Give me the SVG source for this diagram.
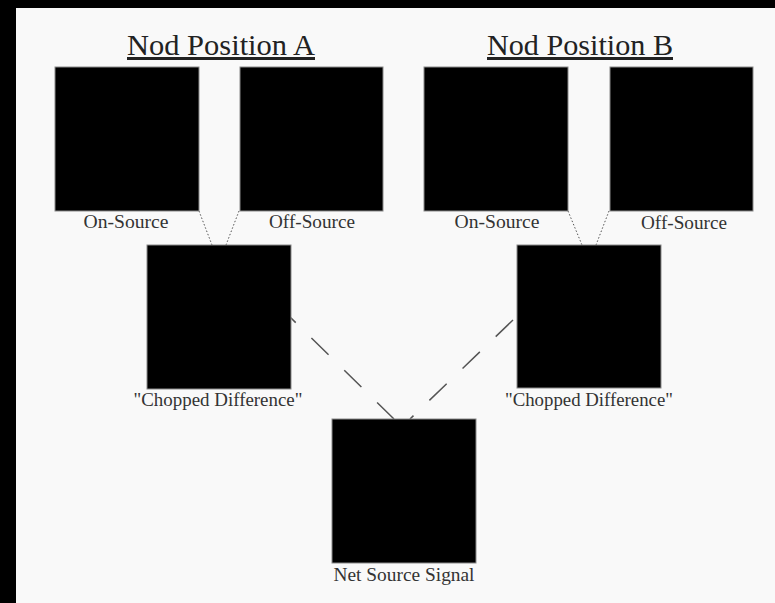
<svg xmlns="http://www.w3.org/2000/svg" width="775" height="603" viewBox="0 0 775 603">
  <style>
    .box { fill: #000; stroke: #8a8a8a; stroke-width: 1; }
    .lbl { font-size: 19px; fill: #333; text-anchor: middle; }
    .title { font-size: 30px; fill: #222; text-anchor: middle; text-decoration: underline; }
    .dot { stroke: #555; stroke-width: 1; stroke-dasharray: 1.5 2; fill: none; }
    .dash { stroke: #555; stroke-width: 1.5; stroke-dasharray: 24 22; fill: none; }
  </style>
  <rect x="0" y="0" width="775" height="603" fill="#000"/>
  <rect x="16" y="8" width="759" height="595" fill="#f9f9f9"/>

  <g font-family="'Liberation Serif', 'Times New Roman', Times, serif">
  <text class="title" x="221" y="55" textLength="188" lengthAdjust="spacingAndGlyphs">Nod Position A</text>
  <text class="title" x="580" y="55" textLength="186" lengthAdjust="spacingAndGlyphs">Nod Position B</text>
  </g>

  <g id="connectors">
    <line class="dot" x1="199" y1="211" x2="212" y2="245"/>
    <line class="dot" x1="239" y1="211" x2="226" y2="245"/>
    <line class="dot" x1="568" y1="211" x2="582" y2="245"/>
    <line class="dot" x1="609" y1="211" x2="596" y2="245"/>
    <line class="dash" x1="290" y1="317" x2="394" y2="419" stroke-dashoffset="16"/>
    <line class="dash" x1="513" y1="320" x2="410" y2="419"/>
  </g>

  <g font-family="'Liberation Serif', 'Times New Roman', Times, serif">
  <g id="a-on">
    <rect class="box" x="55" y="67" width="144" height="144"/>
    <text class="lbl" x="126" y="228" textLength="85" lengthAdjust="spacingAndGlyphs">On-Source</text>
  </g>
  <g id="a-off">
    <rect class="box" x="240" y="67" width="143" height="144"/>
    <text class="lbl" x="312" y="228" textLength="86" lengthAdjust="spacingAndGlyphs">Off-Source</text>
  </g>
  <g id="b-on">
    <rect class="box" x="424" y="67" width="144" height="144"/>
    <text class="lbl" x="497" y="228" textLength="85" lengthAdjust="spacingAndGlyphs">On-Source</text>
  </g>
  <g id="b-off">
    <rect class="box" x="610" y="67" width="143" height="144"/>
    <text class="lbl" x="684" y="229" textLength="86" lengthAdjust="spacingAndGlyphs">Off-Source</text>
  </g>
  <g id="a-chop">
    <rect class="box" x="147" y="245" width="144" height="144"/>
    <text class="lbl" x="218" y="406" textLength="169" lengthAdjust="spacingAndGlyphs">"Chopped Difference"</text>
  </g>
  <g id="b-chop">
    <rect class="box" x="517" y="245" width="144" height="143"/>
    <text class="lbl" x="589" y="406" textLength="168" lengthAdjust="spacingAndGlyphs">"Chopped Difference"</text>
  </g>
  <g id="net">
    <rect class="box" x="332" y="419" width="144" height="144"/>
    <text class="lbl" x="404" y="581" textLength="141" lengthAdjust="spacingAndGlyphs">Net Source Signal</text>
  </g>
  </g>
</svg>
